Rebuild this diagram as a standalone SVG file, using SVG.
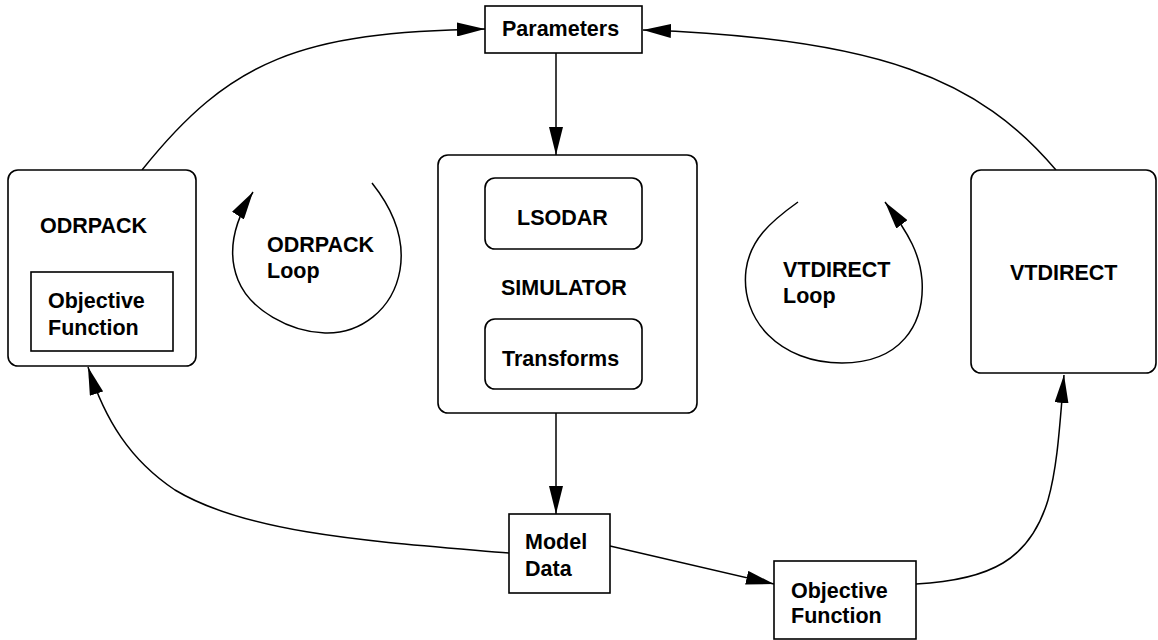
<svg xmlns="http://www.w3.org/2000/svg" width="1158" height="640" viewBox="0 0 1158 640">
<style>
.box{fill:#fff;stroke:#000;stroke-width:1.6}
.t{font-family:"Liberation Sans",Arial,Helvetica,sans-serif;font-weight:bold;font-size:21.5px;fill:#000}
.c{fill:none;stroke:#000;stroke-width:1.5}
</style>
<defs>
<marker id="ah" markerUnits="userSpaceOnUse" markerWidth="28" markerHeight="14" refX="28" refY="7" orient="auto" viewBox="0 0 28 14">
<path d="M0,0 L28,7 L0,14 z" fill="#000"/>
</marker>
</defs>
<rect width="1158" height="640" fill="#fff"/>
<g id="connectors">
<path class="c" d="M142,170 C230,60 300,32 485,29" marker-end="url(#ah)"/>
<path class="c" d="M1056,170 C980,80 880,38 643,30" marker-end="url(#ah)"/>
<path class="c" d="M556,53 L556,155" marker-end="url(#ah)"/>
<path class="c" d="M556,413 L556,514" marker-end="url(#ah)"/>
<path class="c" d="M610,546 L774,584" marker-end="url(#ah)"/>
<path class="c" d="M509,553 C380,542 250,535 175,490 C130,460 105,420 88,367" marker-end="url(#ah)"/>
<path class="c" d="M916,584 C990,580 1030,560 1048,500 C1058,465 1060,420 1064,375" marker-end="url(#ah)"/>
<path class="c" d="M372,183 C395,212 405,240 400,270 C393,310 360,334 325,333 C290,332 250,310 238,280 C228,255 232,225 253,192" marker-end="url(#ah)"/>
<path class="c" d="M798,202 C770,222 750,240 746,270 C740,320 780,363 842,363 C900,363 925,325 922,280 C920,255 910,235 885,202" marker-end="url(#ah)"/>
</g>
<g id="parameters">
<rect class="box" x="485" y="6" width="157" height="47"/>
<text class="t" x="502" y="36">Parameters</text>
</g>
<g id="odrpack">
<rect class="box" x="8" y="170" width="188" height="196" rx="10"/>
<text class="t" x="40" y="233">ODRPACK</text>
</g>
<g id="odrpack-objective">
<rect class="box" x="31" y="272" width="142" height="79"/>
<text class="t" x="48" y="308">Objective</text>
<text class="t" x="48" y="335">Function</text>
</g>
<g id="odrpack-loop">
<text class="t" x="267" y="252">ODRPACK</text>
<text class="t" x="267" y="278">Loop</text>
</g>
<g id="simulator">
<rect class="box" x="438" y="155" width="259" height="258" rx="10"/>
<text class="t" x="501" y="295">SIMULATOR</text>
</g>
<g id="lsodar">
<rect class="box" x="485" y="178" width="157" height="71" rx="10"/>
<text class="t" x="517" y="225">LSODAR</text>
</g>
<g id="transforms">
<rect class="box" x="485" y="319" width="157" height="70" rx="10"/>
<text class="t" x="502" y="366">Transforms</text>
</g>
<g id="vtdirect-loop">
<text class="t" x="783" y="277">VTDIRECT</text>
<text class="t" x="783" y="303">Loop</text>
</g>
<g id="vtdirect">
<rect class="box" x="971" y="170" width="185" height="203" rx="10"/>
<text class="t" x="1010" y="280">VTDIRECT</text>
</g>
<g id="model-data">
<rect class="box" x="509" y="514" width="101" height="79"/>
<text class="t" x="525" y="549">Model</text>
<text class="t" x="525" y="576">Data</text>
</g>
<g id="objective-function">
<rect class="box" x="774" y="561" width="142" height="78"/>
<text class="t" x="791" y="598">Objective</text>
<text class="t" x="791" y="623">Function</text>
</g>
</svg>
